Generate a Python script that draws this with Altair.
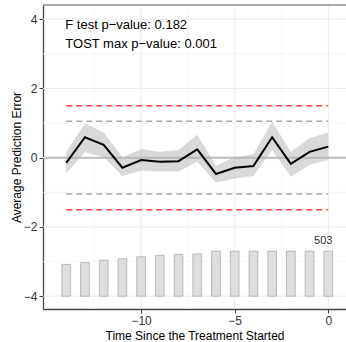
import altair as alt
import pandas as pd

# Event-time periods relative to treatment start
periods = list(range(-14, 1))
# Average prediction error and its confidence band
estimate = [-0.15, 0.59, 0.37, -0.29, -0.07, -0.12, -0.10, 0.24, -0.47, -0.29, -0.24, 0.59, -0.18, 0.17, 0.32]
ci_lower = [-0.45, 0.16, 0.01, -0.53, -0.38, -0.40, -0.40, -0.12, -0.72, -0.60, -0.53, 0.22, -0.55, -0.21, -0.07]
ci_upper = [0.17, 0.99, 0.73, 0.01, 0.25, 0.17, 0.22, 0.66, -0.23, 0.01, 0.10, 1.04, 0.17, 0.56, 0.73]
# Number of treated units observed in each period
counts = [356, 375, 402, 418, 441, 457, 468, 472, 503, 503, 503, 503, 503, 503, 503]

# Equivalence bounds
tost_bound = 1.5
min_bound = 1.05

major_x = [-10, -5, 0]
minor_x = [-12.5, -7.5, -2.5]
major_y = [-4, -2, 0, 2, 4]
minor_y = [-3, -1, 1, 3]

annotations = ["F test p\u2212value: 0.182", "TOST max p\u2212value: 0.001"]

df = pd.DataFrame({"period": periods, "est": estimate, "lo": ci_lower, "hi": ci_upper, "n": counts})
FONT = "Liberation Sans"

XDOM = [-14.975, 0.68]
YDOM = [-4.37, 4.41]
xs = alt.Scale(domain=XDOM, nice=False, zero=False)
ys = alt.Scale(domain=YDOM, nice=False, zero=False)

base = alt.Chart(df)

grid_major_x = alt.Chart(pd.DataFrame({"v": major_x})).mark_rule(color="#ebebeb", strokeWidth=1).encode(
    x=alt.X("v:Q", scale=xs))
grid_minor_x = alt.Chart(pd.DataFrame({"v": minor_x})).mark_rule(color="#f2f2f2", strokeWidth=0.7).encode(
    x=alt.X("v:Q", scale=xs))
grid_major_y = alt.Chart(pd.DataFrame({"v": major_y})).mark_rule(color="#ebebeb", strokeWidth=1).encode(
    y=alt.Y("v:Q", scale=ys))
grid_minor_y = alt.Chart(pd.DataFrame({"v": minor_y})).mark_rule(color="#f2f2f2", strokeWidth=0.7).encode(
    y=alt.Y("v:Q", scale=ys))

zero_line = alt.Chart(pd.DataFrame({"v": [0]})).mark_rule(color="#bdbdbd", strokeWidth=2).encode(
    y=alt.Y("v:Q", scale=ys))


def bound_layer(values, color):
    d = pd.DataFrame({"x0": [periods[0]] * len(values), "x1": [periods[-1]] * len(values), "y": values})
    return alt.Chart(d).mark_rule(strokeWidth=1.5, strokeDash=[6, 4], color=color).encode(
        x=alt.X("x0:Q", scale=xs), x2="x1:Q", y=alt.Y("y:Q", scale=ys))


tost_lines = bound_layer([tost_bound, -tost_bound], "#ff4040")
min_lines = bound_layer([min_bound, -min_bound], "#a8a8a8")

band = base.mark_area(color="#b3b3b3", opacity=0.5).encode(
    x=alt.X("period:Q", scale=xs),
    y=alt.Y("lo:Q", scale=ys),
    y2="hi:Q",
)

line = base.mark_line(color="black", strokeWidth=2).encode(
    x=alt.X("period:Q", scale=xs),
    y=alt.Y("est:Q", scale=ys),
)

bars = base.transform_joinaggregate(nmax="max(n)").transform_calculate(
    top="-4 + datum.n / datum.nmax * 1.3", bottom="-4"
).mark_bar(width=8.7, color="#dedede", stroke="#acacac", strokeWidth=0.8).encode(
    x=alt.X("period:Q", scale=xs),
    y=alt.Y("bottom:Q", scale=ys),
    y2="top:Q",
)

bar_label = base.transform_joinaggregate(nmax="max(n)").transform_calculate(
    top="-4 + datum.n / datum.nmax * 1.3"
).transform_filter(alt.datum.period == periods[-1]).mark_text(
    font=FONT, fontSize=11, color="#333333", baseline="bottom", dy=-5, dx=-5
).encode(
    x=alt.X("period:Q", scale=xs),
    y=alt.Y("top:Q", scale=ys),
    text=alt.Text("n:Q"),
)

txt1 = alt.Chart(pd.DataFrame({"t": [annotations[0]]})).mark_text(
    font=FONT, fontSize=13, color="black", align="left", baseline="middle"
).encode(x=alt.datum(-14.05, scale=xs), y=alt.datum(3.84, scale=ys), text="t:N")
txt2 = alt.Chart(pd.DataFrame({"t": [annotations[1]]})).mark_text(
    font=FONT, fontSize=13, color="black", align="left", baseline="middle"
).encode(x=alt.datum(-14.05, scale=xs), y=alt.datum(3.28, scale=ys), text="t:N")

top_border = alt.Chart(pd.DataFrame({"a": [0]})).mark_rule(color="#555555", strokeWidth=1.2).encode(
    y=alt.value(0), x=alt.value(0), x2=alt.value(310))

axes = alt.Chart(pd.DataFrame({"x": [0], "y": [0]})).mark_point(opacity=0).encode(
    x=alt.X("x:Q", scale=xs, title="Time Since the Treatment Started",
            axis=alt.Axis(values=major_x, grid=False, format="d")),
    y=alt.Y("y:Q", scale=ys, title="Average Prediction Error",
            axis=alt.Axis(values=major_y, grid=False, format="d",
                          titleX=-20, titleY=152, titleBaseline="bottom", titleAngle=270)),
)

chart = alt.layer(
    grid_minor_x, grid_minor_y, grid_major_x, grid_major_y, zero_line,
    band, line, tost_lines, min_lines, bars, bar_label, txt1, txt2, top_border, axes,
).properties(
    width=303, height=304,
    autosize=alt.AutoSizeParams(type="none"),
    padding={"left": 43, "top": 5, "right": 0, "bottom": 33},
    background="white",
).configure_view(stroke=None).configure_axis(
    labelFont=FONT, titleFont=FONT, labelFontSize=12, titleFontSize=12,
    labelColor="#333333", titleColor="black", titleFontWeight="normal",
    domainColor="#444444", domainWidth=1.3, tickColor="#444444", tickSize=4,
    labelPadding=2,
).configure_axisX(titlePadding=4)

chart.save("out.html", embed_options={"renderer": "svg", "actions": False})
